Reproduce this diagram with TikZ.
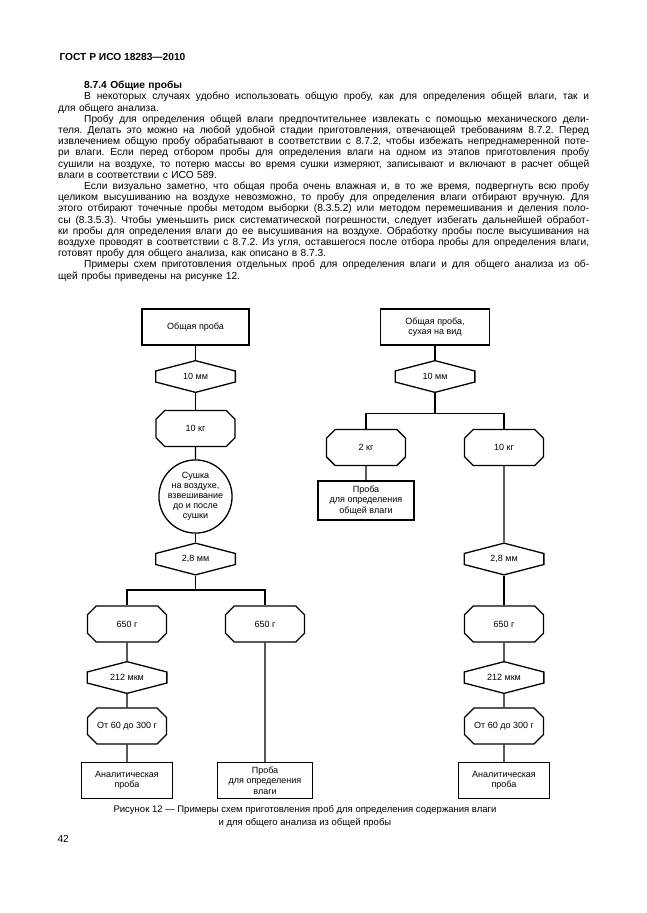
\documentclass[tikz,border=0pt]{standalone}
\usepackage{fontspec}
\setmainfont{Liberation Sans}
\usepackage{tikz}
\usetikzlibrary{shapes.misc}

\newcommand{\jline}[1]{\hbox to 531pt{\spaceskip=\fontdimen2\font plus 1fil\xspaceskip=\spaceskip #1}}
\newcommand{\pline}[1]{\hbox to 531pt{\spaceskip=\fontdimen2\font plus 1fil\xspaceskip=\spaceskip \hskip 26pt #1}}
\newcommand{\lline}[1]{\hbox to 531pt{#1\hfil}}

\begin{document}
\begin{tikzpicture}[x=1pt, y=-1pt,
  lbl/.style={font=\fontsize{9}{10.6}\selectfont, align=center},
  box/.style={lbl, draw, line width=1.3pt, rectangle, minimum height=36pt, inner sep=2pt},
  sieve/.style={lbl, minimum width=81pt, minimum height=33pt, inner sep=0pt,
    path picture={\draw[line width=1.3pt]
      ([xshift=0.65pt, yshift=-11pt]path picture bounding box.north west)
      -- ([yshift=-0.65pt]path picture bounding box.north)
      -- ([xshift=-0.65pt, yshift=-11pt]path picture bounding box.north east)
      -- ([xshift=-0.65pt, yshift=11pt]path picture bounding box.south east)
      -- ([yshift=0.65pt]path picture bounding box.south)
      -- ([xshift=0.65pt, yshift=11pt]path picture bounding box.south west) -- cycle;}},
  mass/.style={lbl, draw, line width=1.3pt, chamfered rectangle, chamfered rectangle xsep=6pt, minimum width=79pt, minimum height=36pt, inner sep=2pt},
  dry/.style={lbl, draw, line width=1.3pt, circle, minimum size=69pt, inner sep=0pt, font=\fontsize{9}{10}\selectfont},
  fork/.style={to path={-| (\tikztotarget)}}]
\fill[white] (0,0) rectangle (646,913);
\useasboundingbox (0,0) rectangle (646,913);

% page text
\node[anchor=west, font=\bfseries\fontsize{10.2}{12}\selectfont] (head) at (56,57) {ГОСТ Р ИСО 18283—2010};
\node[anchor=north west, inner sep=0pt, text width=531pt, font=\fontsize{10.2}{11.2}\selectfont\frenchspacing] (body) at (58,81) {%
\lline{\hskip 26pt\textbf{8.7.4 Общие пробы}}
\pline{В некоторых случаях удобно использовать общую пробу, как для определения общей влаги, так и}
\lline{для общего анализа.}
\pline{Пробу для определения общей влаги предпочтительнее извлекать с помощью механического дели-}
\jline{теля. Делать это можно на любой удобной стадии приготовления, отвечающей требованиям 8.7.2. Перед}
\jline{извлечением общую пробу обрабатывают в соответствии с 8.7.2, чтобы избежать непреднамеренной поте-}
\jline{ри влаги. Если перед отбором пробы для определения влаги на одном из этапов приготовления пробу}
\jline{сушили на воздухе, то потерю массы во время сушки измеряют, записывают и включают в расчет общей}
\lline{влаги в соответствии с ИСО 589.}
\pline{Если визуально заметно, что общая проба очень влажная и, в то же время, подвергнуть всю пробу}
\jline{целиком высушиванию на воздухе невозможно, то пробу для определения влаги отбирают вручную. Для}
\jline{этого отбирают точечные пробы методом выборки (8.3.5.2) или методом перемешивания и деления поло-}
\jline{сы (8.3.5.3). Чтобы уменьшить риск систематической погрешности, следует избегать дальнейшей обработ-}
\jline{ки пробы для определения влаги до ее высушивания на воздухе. Обработку пробы после высушивания на}
\jline{воздухе проводят в соответствии с 8.7.2. Из угля, оставшегося после отбора пробы для определения влаги,}
\lline{готовят пробу для общего анализа, как описано в 8.7.3.}
\pline{Примеры схем приготовления отдельных проб для определения влаги и для общего анализа из об-}
\lline{щей пробы приведены на рисунке 12.}};

% left scheme
\node[box, minimum width=107pt] (topL) at (195.5,327) {Общая проба};
\node[sieve] (mmL) at (195.5,376.5) {10 мм};
\node[mass] (kgL) at (195.5,428.5) {10 кг};
\node[dry] (dry) at (195.5,496.5) {Сушка\\на воздухе,\\взвешивание\\до и после\\сушки};
\node[sieve] (sv28L) at (195.5,559) {2,8 мм};
\coordinate (brL) at (195.5,590);
\node[mass] (g650A) at (127,624) {650 г};
\node[mass] (g650B) at (265,624) {650 г};
\node[sieve] (mkmL) at (127,677.5) {212 мкм};
\node[mass] (rngL) at (127,726) {От 60 до 300 г};
\node[box, minimum width=91pt] (anaL) at (127,780.5) {Аналитическая\\проба};
\node[box, minimum width=95pt] (wetB) at (265,780.5) {Проба\\для определения\\влаги};

% right scheme
\node[box, minimum width=109pt] (topR) at (435,327) {Общая проба,\\сухая на вид};
\node[sieve] (mmR) at (435,376.5) {10 мм};
\coordinate (brR) at (435,413.3);
\node[mass] (kg2) at (366,447.5) {2 кг};
\node[mass] (kgR) at (504,447.5) {10 кг};
\node[box, minimum width=96pt, minimum height=39pt] (wetR) at (366,500.5) {Проба\\для определения\\общей влаги};
\node[sieve] (sv28R) at (504,559) {2,8 мм};
\node[mass] (g650R) at (504,624) {650 г};
\node[sieve] (mkmR) at (504,677.5) {212 мкм};
\node[mass] (rngR) at (504,726) {От 60 до 300 г};
\node[box, minimum width=91pt] (anaR) at (504,780.5) {Аналитическая\\проба};

\path[line width=1.3pt]
(topL) edge (mmL)
(mmL) edge (kgL)
(kgL) edge (dry)
(dry) edge (sv28L)
(sv28L) edge (brL)
(brL) edge[fork] (g650A)
(brL) edge[fork] (g650B)
(g650A) edge (mkmL)
(mkmL) edge (rngL)
(rngL) edge (anaL)
(g650B) edge (wetB)
(topR) edge (mmR)
(mmR) edge (brR)
(brR) edge[fork] (kg2)
(brR) edge[fork] (kgR)
(kg2) edge (wetR)
(kgR) edge (sv28R)
(sv28R) edge (g650R)
(g650R) edge (mkmR)
(mkmR) edge (rngR)
(rngR) edge (anaR)
;

\node[align=center, font=\fontsize{9.5}{13}\selectfont] (cap) at (305,816.5) {Рисунок 12 — Примеры схем приготовления проб для определения содержания влаги\\и для общего анализа из общей пробы};
\node[anchor=west, font=\fontsize{10.2}{12}\selectfont] (page) at (54,839) {42};
\end{tikzpicture}
\end{document}
